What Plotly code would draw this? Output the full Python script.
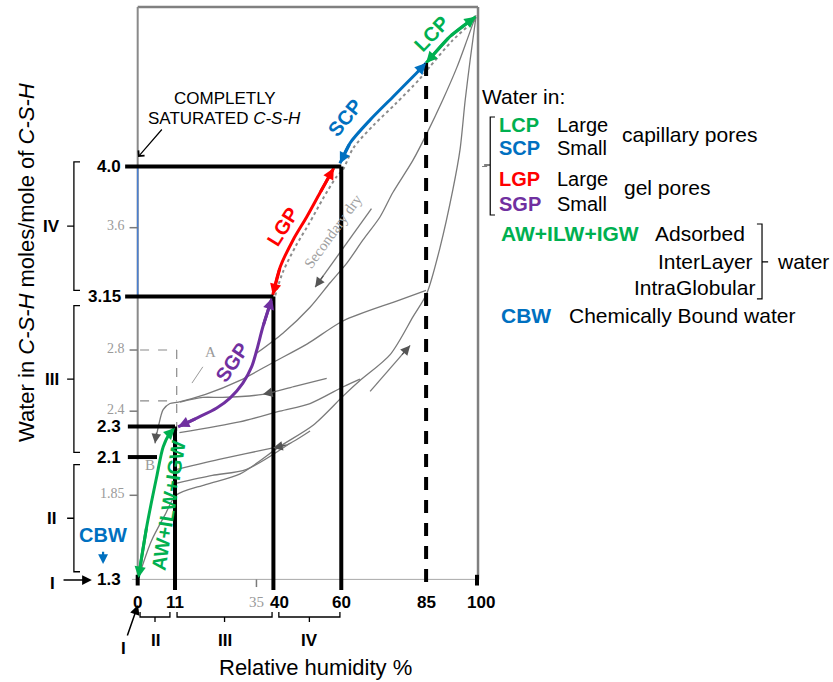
import plotly.graph_objects as go

# ------------------------------------------------------------------ data
# bold reference levels on the water axis (moles H2O / mole C-S-H)
level_labels = ["4.0", "3.15", "2.3", "2.1", "1.3"]
level_values = [4.0, 3.15, 2.3, 2.1, 1.3]
level_line_end_rh = [60, 40, 11, 5.7, None]

# bold relative-humidity ticks
rh_labels = ["0", "11", "40", "60", "85", "100"]
rh_values = [0, 11, 40, 60, 85, 100]
rh_drop_from = [1.33, 2.3, 3.15, 4.0, 4.677, 1.33]
rh_label_shift = [0, 0, 6, 0, 0, 4]

# gray ticks of the original scanned figure
scan_y_values = [3.6, 2.8, 2.4, 1.85]
scan_y_labels = ["3.6", "2.8", "2.4", "1.85"]
scan_x_values = [35]
scan_x_labels = ["35"]

# coloured desorption segments (RH %, water content)
lcp_rh = [85.0, 92.0, 99.6]
lcp_w = [4.677, 4.85, 4.98]
scp_rh = [59.6, 62.6, 68.5, 75.2, 82.2, 85.0]
scp_w = [4.02, 4.154, 4.305, 4.455, 4.612, 4.677]
lgp_rh = [39.8, 42.0, 45.8, 49.8, 53.7, 57.8]
lgp_w = [3.16, 3.343, 3.52, 3.67, 3.827, 3.99]
sgp_rh = [11.9, 17.4, 23.3, 27.2, 31.0, 33.6, 35.1, 36.9, 39.6]
sgp_w = [2.298, 2.355, 2.421, 2.486, 2.584, 2.691, 2.80, 2.952, 3.14]
aw_rh = [0.2, 2.65, 5.6, 7.5, 9.5, 11.0]
aw_w = [1.31, 1.644, 1.971, 2.166, 2.257, 2.29]

# gray sorption curves of the scanned original
scan_desorb_rh = [99.5, 92.6, 86.0, 83.0, 76.0, 69.5, 63.5, 60.5, 58.5, 54.6, 50.6, 46.6, 42.8, 40.3]
scan_desorb_w = [4.96, 4.82, 4.65, 4.57, 4.41, 4.27, 4.12, 3.98, 3.93, 3.79, 3.63, 3.48, 3.31, 3.14]
sec_dry_rh = [99.7, 97.1, 94.1, 90.0, 85.3, 81.1, 75.2, 71.4, 66.4, 61.7, 56.7, 50.8, 42.8, 35.1]
sec_dry_w = [4.99, 4.83, 4.65, 4.44, 4.22, 4.04, 3.83, 3.67, 3.52, 3.37, 3.24, 3.08, 2.91, 2.78]
first_wet_rh = [0.5, 4, 8, 11.3, 20, 30.2, 41.9, 51.8, 60.6, 65.5, 74.4, 81.2, 85.2, 89.1, 92.9, 95.0, 96.5, 98.0, 99.7]
first_wet_w = [1.33, 1.55, 1.72, 1.85, 1.92, 1.99, 2.17, 2.31, 2.50, 2.60, 2.77, 3.02, 3.17, 3.47, 3.85, 4.11, 4.43, 4.70, 4.98]
fan_a_rh = [11.6, 25, 39.9, 44.0, 50.8]
fan_a_w = [2.02, 2.09, 2.16, 2.18, 2.27]
fan_b_rh = [11.6, 22, 32.1, 44.9]
fan_b_w = [1.93, 1.98, 2.02, 2.19]
mid_dry_rh = [85, 76.3, 60.5, 50, 40, 30, 20, 12, 9.5, 7.5, 6.1, 5.1]
mid_dry_w = [3.19, 3.12, 2.99, 2.84, 2.72, 2.6, 2.51, 2.46, 2.45, 2.41, 2.30, 2.19]
scan_f_rh = [55.7, 46, 36.9, 25, 19.2, 12.5]
scan_f_w = [2.615, 2.56, 2.51, 2.49, 2.49, 2.46]
scan_g_rh = [12.3, 30, 41.9, 50.8, 60.6, 65.5]
scan_g_w = [2.26, 2.33, 2.40, 2.45, 2.56, 2.61]
wet_arrow_rh = [68.5, 80.3]
wet_arrow_w = [2.53, 2.83]
sec_arrow_rh = [68.9, 52.3]
sec_arrow_w = [3.725, 3.211]
a_pointer_rh = [19.2, 16.0]
a_pointer_w = [2.69, 2.584]
box_rh = [0.7, 11.5]
box_w = [2.8, 2.467, 2.1]

# range brackets
y_brackets = ["IV", "III", "II"]
y_bracket_lo = [3.19, 2.13, 1.35]
y_bracket_hi = [4.03, 3.09, 2.05]
x_brackets = ["II", "III", "IV"]
x_bracket_lo = [0.7, 11.6, 41.6]
x_bracket_hi = [9.5, 39.6, 59.6]

# legend
leg_abbr = ["LCP", "SCP", "LGP", "SGP"]
leg_size = ["Large", "Small", "Large", "Small"]
leg_colors = ["#00B050", "#0070C0", "#FF0000", "#7030A0"]
leg_w = [4.27, 4.12, 3.918, 3.758]

# ------------------------------------------------------------------ figure
FONT = "Liberation Sans, Arial, sans-serif"
SERIF = "Liberation Serif, Times New Roman, serif"
GRAY = "#7a7a7a"
GREEN, BLUE, RED, PURPLE = "#00B050", "#0070C0", "#FF0000", "#7030A0"

fig = go.Figure()


def curve(xs, ys, color, width, dash="solid", shape="spline"):
    fig.add_trace(go.Scatter(x=xs, y=ys, mode="lines", hoverinfo="skip", showlegend=False,
                             line=dict(color=color, width=width, dash=dash, shape=shape, smoothing=0.8)))


def seg(x0, y0, x1, y1, color="black", width=4, dash="solid"):
    fig.add_shape(type="line", xref="x", yref="y", x0=x0, y0=y0, x1=x1, y1=y1,
                  line=dict(color=color, width=width, dash=dash))


def head(x, y, xt, yt, color, width, size=0.7, style=2):
    fig.add_annotation(x=x, y=y, ax=xt, ay=yt, xref="x", yref="y", axref="x", ayref="y",
                       text="", showarrow=True, arrowhead=style, arrowsize=size,
                       arrowwidth=width, arrowcolor=color, standoff=0, startstandoff=0)


def text(x, y, s, size=17, color="black", bold=False, angle=0, xanchor="center",
         family=FONT, xshift=0, yshift=0):
    if bold:
        s = "<b>" + s + "</b>"
    fig.add_annotation(x=x, y=y, xref="x", yref="y", text=s, showarrow=False,
                       font=dict(size=size, color=color, family=family), textangle=angle,
                       xanchor=xanchor, yanchor="middle", xshift=xshift, yshift=yshift)


# frame of the scanned diagram
seg(0, 5.043, 100.3, 5.043, "#808080", 2.5)
seg(0, 1.3, 0, 5.043, "#8a8a8a", 2)
seg(100.3, 1.3, 100.3, 5.043, "#808080", 2.5)
seg(-1.7, 1.3, 100.3, 1.3, "#a8a8a8", 1)
seg(0, 3.15, 0, 4.0, "#4a7fd0", 1.5)
seg(101.5, 4.0, 103.0, 4.0, GRAY, 1)

# scanned gray ticks / labels
for v, lab in zip(scan_y_values, scan_y_labels):
    seg(-2.4, v, 0, v, GRAY, 1.5)
    text(-3.2, v, lab, 14, "#9a9a9a", xanchor="right", family=SERIF, yshift=2)
for v, lab in zip(scan_x_values, scan_x_labels):
    seg(v, 1.3, v, 1.25, GRAY, 1.5)
    text(v, 1.15, lab, 15, "#9a9a9a", family=SERIF)

# dashed box A/B
seg(box_rh[0], box_w[0], box_rh[1], box_w[0], "#8a8a8a", 1.2, "dash")
seg(box_rh[0], box_w[1], box_rh[1], box_w[1], "#8a8a8a", 1.2, "dash")
seg(box_rh[1], box_w[0], box_rh[1], box_w[2], "#8a8a8a", 1.2, "dash")
text(21.4, 2.79, "A", 15, "#9a9a9a", family=SERIF)
text(3.6, 2.05, "B", 15, "#9a9a9a", family=SERIF)
curve(a_pointer_rh, a_pointer_w, "#9a9a9a", 1, shape="linear")

# gray curves
curve(scan_desorb_rh, scan_desorb_w, "#8c8c8c", 2, "dot")
for xs, ys in [(sec_dry_rh, sec_dry_w), (first_wet_rh, first_wet_w), (fan_a_rh, fan_a_w),
               (fan_b_rh, fan_b_w), (mid_dry_rh, mid_dry_w), (scan_f_rh, scan_f_w),
               (scan_g_rh, scan_g_w), (wet_arrow_rh, wet_arrow_w), (sec_arrow_rh, sec_arrow_w)]:
    curve(xs, ys, GRAY, 1.3)
head(sec_arrow_rh[1], sec_arrow_w[1], 55.0, 3.295, "#555", 1.2, 1.6)
head(mid_dry_rh[-1], mid_dry_w[-1], 5.6, 2.27, "#555", 1.2, 1.6)
head(scan_f_rh[2], scan_f_w[2], 41.0, 2.53, "#555", 1.2, 1.6)
head(wet_arrow_rh[1], wet_arrow_w[1], 77.5, 2.76, "#555", 1.2, 1.6)
head(fan_a_rh[2], fan_a_w[2], 44.0, 2.18, "#555", 1.2, 1.6)
text(57.6, 3.58, "Secondary dry", 15, "#a0a0a0", angle=-54, family=SERIF)

# bold level lines (horizontal)
for v, lab, end in zip(level_values, level_labels, level_line_end_rh):
    if end is not None:
        start = -3.7 if v > 3 else -2.9
        seg(start, v, end, v, "black", 4)
    text(-4.3, v, lab, 17, bold=True, xanchor="right")

# bold RH lines (vertical)
for r, lab, top, sh in zip(rh_values, rh_labels, rh_drop_from, rh_label_shift):
    if r == 85:
        seg(r, top, r, 1.27, "black", 4, "13px,10px")
    elif r in (0, 100):
        seg(r, top, r, 1.26, "black", 4)
    else:
        seg(r, top, r, 1.23, "black", 4)
    text(r, 1.15, lab, 17, bold=True, xshift=sh)

# coloured double-headed arrows
for xs, ys, col in [(lcp_rh, lcp_w, GREEN), (scp_rh, scp_w, BLUE), (lgp_rh, lgp_w, RED),
                    (sgp_rh, sgp_w, PURPLE), (aw_rh, aw_w, GREEN)]:
    curve(xs, ys, col, 3)
    head(xs[0], ys[0], xs[1], ys[1], col, 3, 0.75)
    head(xs[-1], ys[-1], xs[-2], ys[-2], col, 3, 0.75)

text(86.6, 4.865, "LCP", 20, GREEN, True, -46)
text(61.1, 4.315, "SCP", 20, BLUE, True, -51)
text(42.6, 3.607, "LGP", 20, RED, True, -58)
text(27.9, 2.72, "SGP", 20, PURPLE, True, -56)
text(9.0, 1.782, "AW+ILW+IGW", 20, GREEN, True, -81)

# completely saturated note
text(25.6, 4.448, "COMPLETLY", 17)
text(25.7, 4.317, "SATURATED <i>C-S-H</i>", 17)
head(0.1, 4.062, 7.5, 4.252, "black", 1.2, 1.3, 4)

# y brackets
for lab, lo, hi in zip(y_brackets, y_bracket_lo, y_bracket_hi):
    mid = (lo + hi) / 2
    fig.add_shape(type="path", xref="x", yref="y",
                  path=f"M -17.0,{hi} L -18.8,{hi} L -18.8,{lo} L -17.0,{lo} M -18.8,{mid} L -20.8,{mid}",
                  line=dict(color="black", width=1.3))
    text(-25.3, mid, lab, 17, bold=True)
text(-25.0, 1.276, "I", 17, bold=True)
head(-13.5, 1.296, -22.3, 1.296, "black", 1.5, 1.3)
text(-10.2, 1.59, "CBW", 20, BLUE, True)
head(-10.2, 1.40, -10.2, 1.49, BLUE, 2.2, 0.9)

# x brackets
for lab, lo, hi in zip(x_brackets, x_bracket_lo, x_bracket_hi):
    mid = (lo + hi) / 2
    fig.add_shape(type="path", xref="x", yref="y",
                  path=f"M {lo},1.087 L {lo},1.054 L {hi},1.054 L {hi},1.087 M {mid},1.054 L {mid},1.021",
                  line=dict(color="black", width=1.3))
    text(mid, 0.903, lab, 17, bold=True)
text(-4.3, 0.851, "I", 17, bold=True)
head(0.1, 1.133, -3.2, 0.923, "black", 1.5, 1.3)

# axis titles
text(-32.6, 3.37, "Water in <i>C-S-H</i> moles/mole of <i>C-S-H</i>", 22, angle=-90)
text(52.5, 0.727, "Relative humidity %", 22)

# legend on the right
text(100.9, 4.455, "Water in:", 21, xanchor="left")
fig.add_shape(type="path", xref="x", yref="y",
              path="M 105.3,4.324 L 103.9,4.324 L 103.9,3.683 L 105.3,3.683 M 103.9,4.01 L 102.1,4.01",
              line=dict(color="black", width=1.2))
for ab, sz, col, w in zip(leg_abbr, leg_size, leg_colors, leg_w):
    text(105.9, w, ab, 20, col, True, xanchor="left")
    text(123.0, w, sz, 20, xanchor="left")
text(142.1, 4.21, "capillary pores", 21, xanchor="left")
text(142.7, 3.865, "gel pores", 21, xanchor="left")
text(106.5, 3.565, "AW+ILW+IGW", 21, GREEN, True, xanchor="left")
text(151.9, 3.565, "Adsorbed", 21, xanchor="left")
text(182.0, 3.376, "InterLayer", 21, xanchor="right")
text(182.6, 3.206, "IntraGlobular", 21, xanchor="right")
fig.add_shape(type="path", xref="x", yref="y",
              path="M 182.5,3.624 L 184.0,3.624 L 184.0,3.134 L 182.5,3.134 M 184.0,3.376 L 185.8,3.376",
              line=dict(color="black", width=1.2))
text(187.8, 3.376, "water", 21, xanchor="left")
text(106.5, 3.029, "CBW", 21, BLUE, True, xanchor="left")
text(126.5, 3.029, "Chemically Bound water", 21, xanchor="left")

fig.update_layout(
    width=833, height=682, margin=dict(l=0, r=0, t=0, b=0),
    paper_bgcolor="white", plot_bgcolor="white", showlegend=False,
    xaxis=dict(range=[-40.58, 204.92], visible=False, fixedrange=True),
    yaxis=dict(range=[0.629, 5.089], visible=False, fixedrange=True),
)

fig.write_html("out.html")
